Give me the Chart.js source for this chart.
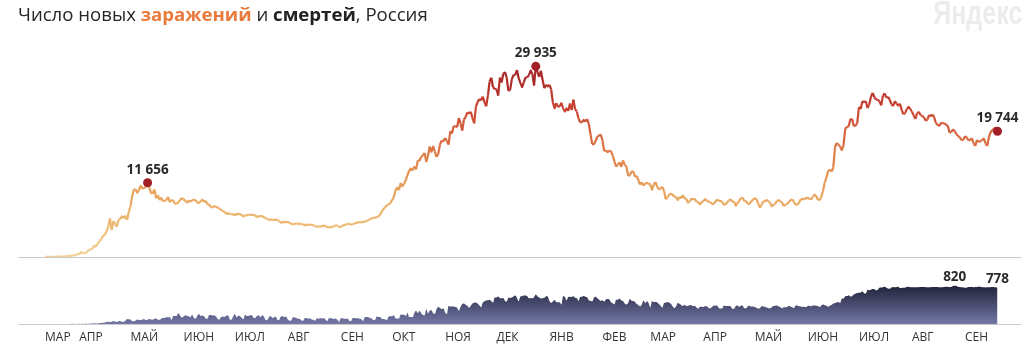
<!DOCTYPE html>
<html><head><meta charset="utf-8">
<script src="https://cdn.jsdelivr.net/npm/chart.js@4/dist/chart.umd.min.js"></script>
<style>
html,body{margin:0;padding:0;background:#fff;}
body{width:1030px;height:360px;position:relative;overflow:hidden;font-family:"Open Sans",sans-serif;}
#title{position:absolute;left:18px;top:1px;font-size:18.6px;color:#262626;white-space:nowrap;}
#title .inf{color:#ea7a3c;font-weight:700}
#title .dth{font-weight:700;color:#222}
#logo{position:absolute;right:8px;top:-6px;font-family:"Liberation Sans",sans-serif;font-size:33px;font-weight:700;color:#ececec;transform:scaleX(0.76);transform-origin:right top;white-space:nowrap;}
#w1{position:absolute;left:0;top:0;width:1030px;height:262px}
#w2{position:absolute;left:0;top:262px;width:1030px;height:98px}
canvas{display:block}
</style></head>
<body>
<div id="w1"><canvas id="c1" width="1030" height="262"></canvas></div>
<div id="w2"><canvas id="c2" width="1030" height="98"></canvas></div>
<div id="title">Число новых <span class="inf">заражений</span> и <span class="dth">смертей</span>, Россия</div>
<div id="logo">Яндекс</div>
<script>
// Day 0 = 12 March 2020, one value per day up to 20 September 2021
const monthStartDays = [0,20,50,81,111,142,173,203,234,264,295,326,354,385,415,446,476,507,538];
const monthLabels = ['МАР','АПР','МАЙ','ИЮН','ИЮЛ','АВГ','СЕН','ОКТ','НОЯ','ДЕК','ЯНВ','ФЕВ','МАР','АПР','МАЙ','ИЮН','ИЮЛ','АВГ','СЕН'];

const cases = [
6,11,14,4,30,21,33,52,54,53,61,71,57,163,182,196,228,270,302,501,
440,771,601,582,658,954,1154,1175,1459,1786,1667,2186,2558,2774,3388,3448,4070,4785,6060,4268,5642,5236,4774,5849,5966,6361,6198,6411,5841,7099,
7933,9623,10633,10581,10102,10559,11231,10699,10817,11012,11656,10899,10028,9974,10598,9200,9709,8926,9263,8764,8849,8894,9434,8599,8946,8915,8338,8371,8572,8952,9268,
9035,8863,8536,8831,8726,8855,8984,8985,8595,8404,8779,8987,8706,8835,8246,8248,7843,7790,7972,7889,7728,7600,7425,7176,7113,6800,6852,6791,6719,6693,
6556,6760,6718,6736,6611,6368,6562,6509,6635,6632,6611,6615,6537,6248,6422,6428,6406,6234,6109,5940,5842,5862,5848,5811,5871,5765,5635,5395,5475,5509,5482,
5462,5427,5159,5159,5204,5267,5241,5212,5189,5118,4945,5102,5057,5065,5061,4969,4839,4748,4828,4767,4870,4921,4852,4676,4696,4711,4676,4829,4980,4897,4729,
4670,4952,4995,5110,5205,5195,5099,5185,5218,5363,5406,5488,5449,5509,5529,5670,5762,5905,6065,6148,6196,6215,6431,6595,7212,7523,7867,8135,8232,8481,
8945,9412,10499,10888,10499,11615,11115,11493,12126,12846,13634,13868,13592,14231,13754,15150,15099,15700,15982,16319,14922,15971,17340,16521,17347,16550,15726,16202,17717,18283,18140,
18665,18257,17638,19768,19404,20582,20498,20396,21798,20977,19851,21608,21983,22702,22572,22778,21829,20985,23610,24318,24822,24581,25173,24326,23675,25345,27543,28145,26683,26338,
26402,25345,28145,27403,28782,29039,28137,26097,26190,27927,28585,28558,29350,28080,27328,26689,27420,28214,28209,28552,29258,28776,26929,29935,29018,28284,29246,27787,26513,27039,26800,
27029,26301,24246,23351,24150,23541,23652,24217,23309,22851,23315,22934,24092,23085,24715,23222,22857,21734,21152,21127,21513,21262,21666,20921,19290,17741,17648,18241,18931,19032,19238,
18359,16643,16714,16474,16688,16627,15916,15019,14185,14494,14861,14144,15150,14497,14207,12742,12828,13433,13447,12604,12742,12048,11359,11749,11198,11534,11611,11571,
11368,10565,11385,11753,11024,10595,10753,11024,10407,9079,9393,9813,9908,9875,9437,9445,8964,9397,9299,9632,9215,9150,8457,8769,9128,9073,9088,8711,8589,8277,8598,
8792,9073,8885,8646,8644,8294,8328,8672,9024,8800,8806,8702,8173,8271,8632,8880,9073,8632,8702,8053,8457,8807,9270,9321,8731,8848,8271,8328,8780,8944,
9270,9118,8419,7770,8163,8697,8780,8926,8790,8554,7899,8217,8329,8832,8900,8782,8554,7963,8217,8338,8632,8951,9048,8632,8185,8217,8564,9068,9123,9036,9252,
9288,9145,9022,9432,9785,9568,8998,8926,9473,10407,11699,12505,13510,13721,13397,14057,17262,17906,17611,17378,16715,17594,20182,20393,20538,21665,21650,20538,20616,21042,
23543,23218,24439,24353,24471,23378,23962,25116,25766,25082,24721,24702,24439,23811,25293,25704,25018,25140,24702,23947,23704,24471,24072,23811,24072,23032,22420,22589,23270,23564,23270,
22804,22214,21665,22589,22804,22277,22144,21932,21378,21571,22277,22144,22366,21932,20992,20765,20564,21058,21000,20992,20765,20564,19509,19630,20057,19716,19286,18985,18780,18325,18368,
18985,18780,18325,18341,18645,17856,17425,18368,18065,18178,18341,18645,17837,17425,18841,19594,19905,20174,20329,19744
];

const deaths = [
0,0,0,0,0,0,0,1,0,0,0,0,0,1,1,0,4,1,0,8,
7,2,4,1,9,2,13,13,13,18,12,13,22,24,28,33,41,48,42,51,57,52,42,60,66,47,50,72,108,101,
96,57,58,76,95,86,88,98,104,88,94,107,96,93,113,119,94,91,115,135,127,150,139,153,92,174,174,174,232,181,138,
162,182,178,169,144,197,134,112,171,216,174,181,160,119,114,193,194,182,181,161,109,95,153,154,152,176,188,104,93,154,
216,147,176,168,135,104,198,173,174,188,188,130,130,175,183,146,189,159,85,80,150,165,129,147,154,85,94,161,169,147,161,
95,70,75,144,139,129,114,110,77,70,130,129,114,119,98,90,68,122,115,121,120,121,98,60,122,121,119,110,117,87,50,
123,121,112,110,119,67,65,130,129,121,122,111,104,64,145,150,144,130,119,88,87,160,150,149,108,110,99,88,160,169,
169,186,117,118,115,202,201,198,174,244,150,149,147,239,286,232,279,232,193,186,317,228,283,295,229,219,320,366,346,320,334,
245,213,389,378,378,376,368,349,286,368,432,439,411,395,353,394,442,456,463,437,401,361,456,491,507,510,524,496,459,569,
569,589,554,554,560,496,482,562,559,569,593,613,560,488,590,599,613,611,597,555,561,555,575,635,592,568,547,552,562,599,591,
495,455,485,516,470,469,470,417,599,582,506,581,588,579,594,562,552,497,580,584,602,586,575,511,499,485,565,584,553,521,497,
508,480,529,540,526,468,445,422,520,521,549,505,496,440,418,450,537,500,492,474,431,407,377,419,505,447,488,447,
357,493,466,480,463,430,392,349,449,458,475,457,438,381,344,376,452,434,410,387,412,384,390,401,411,380,395,355,329,370,371,
366,382,380,343,336,364,399,393,397,346,333,334,398,389,385,385,374,324,327,387,396,366,398,391,336,336,382,394,372,377,
368,352,331,337,383,378,371,353,339,336,362,385,395,399,378,365,335,359,358,365,391,373,362,344,398,399,379,378,366,371,361,
385,393,381,398,396,395,385,363,398,419,403,391,373,395,408,439,444,466,466,456,545,548,599,601,619,591,599,635,652,669,
672,679,697,663,654,737,727,737,752,749,725,738,780,786,791,799,779,764,759,784,798,790,795,799,771,774,779,780,793,799,789,
792,789,790,791,792,795,797,798,792,790,791,792,793,794,796,795,790,791,792,793,799,797,798,798,817,820,819,799,795,789,786,
782,780,793,793,793,791,796,798,799,799,792,790,786,789,791,792,795,792,788,778
];

const X_MIN = -15.79, X_MAX = 570.17;
const fmt = v => String(v).replace(/\B(?=(\d{3})+(?!\d))/g, ' ');

// indices to mark: first-wave maximum, overall maximum, last value
function argmax(arr, from, to) { let b = from; for (let i = from; i < to; i++) if (arr[i] > arr[b]) b = i; return b; }
const caseMarks = [argmax(cases, 0, 150), argmax(cases, 0, cases.length), cases.length - 1];
const deathMarks = [argmax(deaths, 0, deaths.length), deaths.length - 1];

const stops = [[0,[243,207,146]],[6000,[236,182,110]],[12000,[230,154,84]],[18000,[219,110,66]],[24000,[198,62,48]],[30000,[158,34,38]]];
function colorFor(v) {
  for (let i = 1; i < stops.length; i++) {
    if (v <= stops[i][0]) {
      const [a, ca] = stops[i-1], [b, cb] = stops[i];
      const t = (v - a) / (b - a);
      const c = ca.map((x, k) => Math.round(x + (cb[k] - x) * t));
      return `rgb(${c[0]},${c[1]},${c[2]})`;
    }
  }
  const c = stops[stops.length-1][1];
  return `rgb(${c[0]},${c[1]},${c[2]})`;
}

const labelPlugin = {
  id: 'marks',
  afterDatasetsDraw(chart, args, opts) {
    const ctx = chart.ctx;
    const meta = chart.getDatasetMeta(0);
    ctx.save();
    ctx.font = '700 13.5px "Open Sans", sans-serif';
    ctx.fillStyle = '#2a2a2a';
    ctx.textAlign = 'center';
    ctx.textBaseline = 'alphabetic';
    opts.marks.forEach(i => {
      const el = meta.data[i];
      ctx.fillText(fmt(opts.values[i]), el.x, el.y - opts.gap);
    });
    ctx.restore();
  }
};

new Chart(document.getElementById('c1'), {
  type: 'line',
  data: { datasets: [{
    data: cases.map((v, i) => ({ x: i, y: v })),
    borderWidth: 2.2,
    borderJoinStyle: 'round',
    tension: 0,
    pointRadius: c => caseMarks.includes(c.dataIndex) ? 4.5 : 0,
    pointBackgroundColor: '#a21f27',
    pointBorderWidth: 0,
    segment: { borderColor: c => colorFor((c.p0.parsed.y + c.p1.parsed.y) / 2) }
  }]},
  options: {
    responsive: false, animation: false, events: [],
    layout: { padding: { left: 18, right: 10, top: 40, bottom: 5 } },
    plugins: { legend: { display: false }, tooltip: { enabled: false },
      marks: { marks: caseMarks, values: cases, gap: 9 } },
    scales: {
      x: { type: 'linear', min: X_MIN, max: X_MAX,
        ticks: { display: false }, grid: { display: false, drawTicks: false },
        border: { display: true, color: '#c9c9c9', width: 1 },
        afterFit: s => { s.height = 0; } },
      y: { display: false, min: 0, max: 34070 }
    }
  },
  plugins: [labelPlugin]
});

new Chart(document.getElementById('c2'), {
  type: 'line',
  data: { datasets: [{
    data: deaths.map((v, i) => ({ x: i, y: v })),
    fill: 'origin',
    borderWidth: 0,
    cubicInterpolationMode: 'monotone',
    pointRadius: 0,
    backgroundColor: c => {
      const a = c.chart.chartArea;
      if (!a) return '#4a4e78';
      const g = c.chart.ctx.createLinearGradient(0, a.top, 0, a.bottom);
      g.addColorStop(0, '#15172a');
      g.addColorStop(1, '#7377a6');
      return g;
    }
  }]},
  options: {
    responsive: false, animation: false, events: [],
    layout: { padding: { left: 18, right: 10, top: 18, bottom: 0 } },
    plugins: { legend: { display: false }, tooltip: { enabled: false },
      marks: { marks: deathMarks, values: deaths, gap: 5 } },
    scales: {
      x: { type: 'linear', min: X_MIN, max: X_MAX,
        afterBuildTicks: s => { s.ticks = monthStartDays.map(v => ({ value: v })); },
        ticks: { display: true, autoSkip: false, maxRotation: 0, minRotation: 0, align: 'start',
          padding: 6, color: '#333', font: { family: '"Open Sans", sans-serif', size: 12 },
          callback: (v, i) => monthLabels[i] },
        grid: { display: false, drawTicks: false },
        border: { display: true, color: '#c9c9c9', width: 1 },
        afterFit: s => { s.height = 36; } },
      y: { display: false, min: 0, max: 946 }
    }
  },
  plugins: [labelPlugin]
});
</script>
</body></html>
